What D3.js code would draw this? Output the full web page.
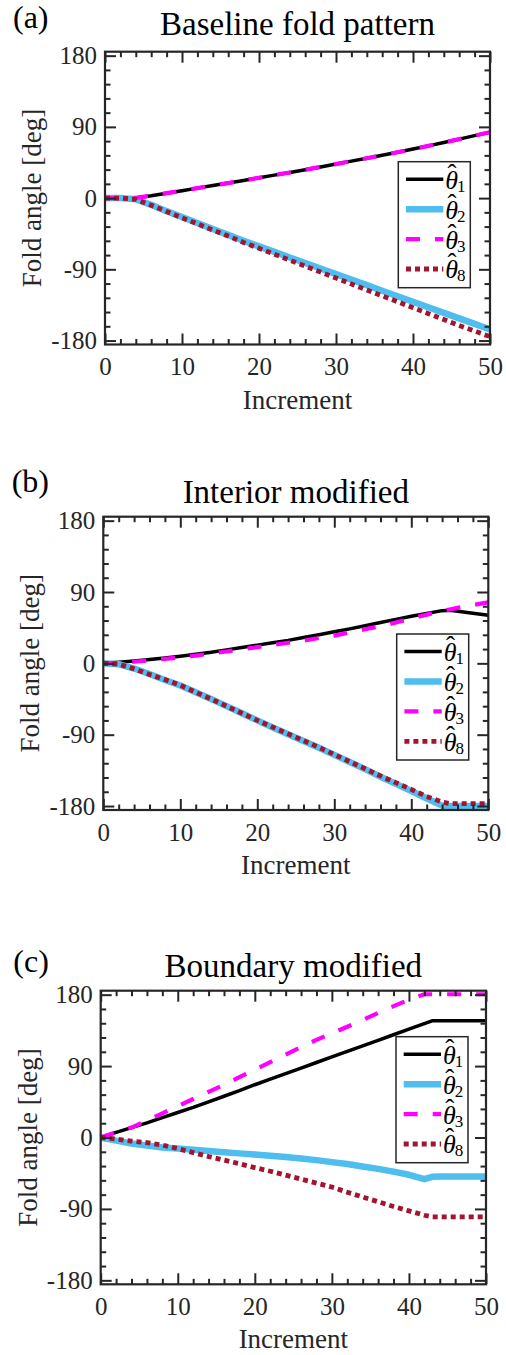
<!DOCTYPE html>
<html>
<head>
<meta charset="utf-8">
<script src="https://cdn.jsdelivr.net/npm/d3@7"></script>
<style>
  body { margin: 0; background: #ffffff; }
  svg text { font-family: "Liberation Serif", "Times New Roman", serif; }
</style>
</head>
<body>
<svg id="fig" width="506" height="1355"></svg>
<script>
// ---- Data -------------------------------------------------------------
// Increment grids (panels b and c carry an extra sample at their kinks)
const incA = [0,2,4,6,8,10,12,14,16,18,20,22,24,26,28,30,32,34,36,38,40,42,44,46,48,50];
const incB = [0,2,4,6,8,10,12,14,16,18,20,22,24,26,28,30,32,34,36,38,40,42,44,45,46,48,50];
const incC = [0,2,4,6,8,10,12,14,16,18,20,22,24,26,28,30,32,34,36,38,40,42,43,44,46,48,50];

// (a) Baseline fold pattern — fold angles [deg]
const aTheta1 = [0,0,0.3,3,6.2,9.4,12.6,15.8,19,22.3,25.6,29,32.4,35.9,39.4,43,46.7,50.4,54.2,58,62,66,70.2,74.5,78.9,83.3];
const aTheta2 = [0,0,-1.5,-8.5,-16.5,-24,-31.5,-39,-46.5,-54,-61,-68,-75,-82,-89,-96,-103,-110,-117,-124,-131,-138,-145,-152,-159,-166];
const aTheta3 = [0,0,0.3,3,6.2,9.4,12.6,15.8,19,22.3,25.6,29,32.4,35.9,39.4,43,46.7,50.4,54.2,58,62,66,70.2,74.5,78.9,83.3];
const aTheta8 = [0,0,-1.5,-9,-17,-25,-32.5,-40.5,-48,-56,-63.5,-71,-78.5,-86,-93.5,-101,-108.5,-116,-123.5,-131,-138.5,-146,-153.5,-161,-168,-175];

// (b) Interior modified
const bTheta1 = [0,1.5,3,4.8,6.8,9,11.5,14,17,20,23,26,29,32.5,36,39.8,43.5,47.5,51.5,55.5,59.5,63,66.5,67,65.8,63.2,60.6];
const bTheta2 = [0,-1,-6.5,-13.5,-21,-28,-36.5,-45,-54,-63,-72,-81,-89.5,-98,-106.5,-115.5,-124.5,-133.5,-143,-152,-161,-170.5,-179.5,-180,-180,-180,-180];
const bTheta3 = [0,0.5,2,3.8,5.6,7.6,9.8,12.3,15,17.8,20.5,23.2,26,28.5,32,35,39,43,47,51.5,56.5,61.5,66,68,70,73.5,77];
const bTheta8 = [0,-1,-7,-14,-20.5,-27.5,-36.5,-45,-54,-63,-72,-80.5,-89,-97.5,-106,-115,-124,-133,-142,-150.5,-159,-168,-175,-177,-177,-177,-177];

// (c) Boundary modified
const cTheta1 = [0,6.5,12.5,18.5,25,31.5,38,45,52,59,66.5,73.5,80.5,87.5,94.5,101.5,108.5,115.5,122.5,129.5,136.5,143.5,147,147,147,147,147];
const cTheta2 = [0,-4,-7.5,-10,-12.5,-14,-15.5,-17,-18.5,-20,-21.5,-23,-24.5,-26.5,-28.5,-31,-33.5,-36.5,-39.5,-43,-47,-52.5,-49.5,-49,-49,-49,-49];
const cTheta3 = [0,6.5,12.5,21.5,30.5,39.5,48.5,57.5,66.5,76,85.5,95,104.5,114,123,131.5,139.5,148,157,165.5,173.5,180.5,180.5,180.5,180.5,180.5,180.5];
const cTheta8 = [0,-2,-4.5,-6.5,-9.5,-14,-19,-24,-28.5,-33,-38,-42.5,-47.5,-52.5,-57.5,-62.5,-69,-75,-81,-87,-92.5,-98,-100,-100,-100,-100,-100];

// Labels and ticks
const panelTags = ["(a)", "(b)", "(c)"];
const panelTitles = ["Baseline fold pattern", "Interior modified", "Boundary modified"];
const seriesSubscripts = ["1", "2", "3", "8"];
const xMajorTicks = [0, 10, 20, 30, 40, 50];
const xMinorTicks = [2,4,6,8,12,14,16,18,22,24,26,28,32,34,36,38,42,44,46,48];
const yMajorTicks = [-180, -90, 0, 90, 180];
const yMinorTicks = [-162,-144,-126,-108,-72,-54,-36,-18,18,36,54,72,108,126,144,162];
const xDomain = [0, 50];
const yDomain = [-185, 185];
const xLabel = "Increment";
const yLabel = "Fold angle [deg]";

// ---- Styling & layout ----------------------------------------------------
const axisColor = "#262626";
const lineStyles = [
  { color: "#000000", width: 3.5, dash: null },
  { color: "#4DBEEE", width: 6.5, dash: null },
  { color: "#FF00FF", width: 4.2, dash: "14,15" },
  { color: "#A2142F", width: 4.8, dash: "5,4" }
];

const panels = [
  { inc: incA, series: [aTheta1, aTheta2, aTheta3, aTheta8],
    box: { left: 105, right: 490, top: 51.7, bottom: 344.5 },
    titleY: 35, tag: { x: 13, y: 28.3 }, legend: { x: 398.3, y: 161.7 } },
  { inc: incB, series: [bTheta1, bTheta2, bTheta3, bTheta8],
    box: { left: 103.3, right: 488.3, top: 516.7, bottom: 810 },
    titleY: 503.3, tag: { x: 11.7, y: 491.7 }, legend: { x: 396.7, y: 634 } },
  { inc: incC, series: [cTheta1, cTheta2, cTheta3, cTheta8],
    box: { left: 100.7, right: 486, top: 990.7, bottom: 1284.3 },
    titleY: 976.7, tag: { x: 13.3, y: 971.7 }, legend: { x: 396, y: 1036.7 } }
];

const svg = d3.select("#fig");
const plainNumber = d => String(d);   // ASCII hyphen for negatives

function styleAxis(g) {
  g.select(".domain").remove();
  g.attr("font-family", null).attr("font-size", null);
  g.selectAll(".tick line").attr("stroke", axisColor).attr("stroke-width", 2);
  g.selectAll(".tick text")
    .attr("fill", axisColor)
    .style("font-family", '"Liberation Serif", "Times New Roman", serif')
    .style("font-size", "25px");
}

panels.forEach((p, pi) => {
  const b = p.box;
  const x = d3.scaleLinear().domain(xDomain).range([b.left, b.right]);
  const y = d3.scaleLinear().domain(yDomain).range([b.bottom, b.top]);
  const g = svg.append("g");

  // clip region = axes box
  const clipId = "clip" + pi;
  g.append("clipPath").attr("id", clipId)
    .append("rect")
    .attr("x", b.left).attr("y", b.top)
    .attr("width", b.right - b.left).attr("height", b.bottom - b.top);

  // data lines
  const line = d3.line().x(d => x(d[0])).y(d => y(d[1]));
  const plot = g.append("g").attr("clip-path", `url(#${clipId})`);
  p.series.forEach((vals, si) => {
    const st = lineStyles[si];
    plot.append("path")
      .datum(p.inc.map((v, i) => [v, vals[i]]))
      .attr("d", line)
      .attr("fill", "none")
      .attr("stroke", st.color)
      .attr("stroke-width", st.width)
      .attr("stroke-linejoin", "round")
      .attr("stroke-dasharray", st.dash);
  });

  // ticks (inward on all four sides)
  const major = 11, minor = 5.5;
  g.append("g").attr("transform", `translate(0,${b.bottom})`)
    .call(d3.axisBottom(x).tickValues(xMajorTicks).tickSize(-major).tickPadding(13).tickFormat(plainNumber))
    .call(styleAxis);
  g.append("g").attr("transform", `translate(0,${b.bottom})`)
    .call(d3.axisBottom(x).tickValues(xMinorTicks).tickSize(-minor).tickFormat(""))
    .call(styleAxis);
  g.append("g").attr("transform", `translate(0,${b.top})`)
    .call(d3.axisTop(x).tickValues(xMajorTicks).tickSize(-major).tickFormat(""))
    .call(styleAxis);
  g.append("g").attr("transform", `translate(0,${b.top})`)
    .call(d3.axisTop(x).tickValues(xMinorTicks).tickSize(-minor).tickFormat(""))
    .call(styleAxis);
  g.append("g").attr("transform", `translate(${b.left},0)`)
    .call(d3.axisLeft(y).tickValues(yMajorTicks).tickSize(-major).tickPadding(8).tickFormat(plainNumber))
    .call(styleAxis);
  g.append("g").attr("transform", `translate(${b.left},0)`)
    .call(d3.axisLeft(y).tickValues(yMinorTicks).tickSize(-minor).tickFormat(""))
    .call(styleAxis);
  g.append("g").attr("transform", `translate(${b.right},0)`)
    .call(d3.axisRight(y).tickValues(yMajorTicks).tickSize(-major).tickFormat(""))
    .call(styleAxis);
  g.append("g").attr("transform", `translate(${b.right},0)`)
    .call(d3.axisRight(y).tickValues(yMinorTicks).tickSize(-minor).tickFormat(""))
    .call(styleAxis);

  // frame
  g.append("rect")
    .attr("x", b.left).attr("y", b.top)
    .attr("width", b.right - b.left).attr("height", b.bottom - b.top)
    .attr("fill", "none").attr("stroke", axisColor).attr("stroke-width", 2.2);

  // axis labels
  g.append("text")
    .attr("x", (b.left + b.right) / 2).attr("y", b.bottom + 64)
    .attr("text-anchor", "middle").attr("font-size", 27).attr("fill", axisColor)
    .text(xLabel);
  g.append("text")
    .attr("transform", `translate(${b.left - 64},${(b.top + b.bottom) / 2}) rotate(-90)`)
    .attr("text-anchor", "middle").attr("font-size", 27).attr("fill", axisColor)
    .text(yLabel);

  // title and panel tag
  g.append("text")
    .attr("x", (b.left + b.right) / 2).attr("y", p.titleY)
    .attr("text-anchor", "middle").attr("font-size", 33).attr("fill", "#000")
    .text(panelTitles[pi]);
  g.append("text")
    .attr("x", p.tag.x).attr("y", p.tag.y)
    .attr("font-size", 32).attr("fill", "#000")
    .text(panelTags[pi]);

  // legend: θ with a hat accent and a subscript, set in one text element
  const lg = g.append("g").attr("transform", `translate(${p.legend.x},${p.legend.y})`);
  lg.append("rect").attr("width", 72).attr("height", 126)
    .attr("fill", "#fff").attr("stroke", axisColor).attr("stroke-width", 1.5);
  seriesSubscripts.forEach((sub, si) => {
    const st = lineStyles[si];
    const ry = 17.6 + si * 29.9;
    lg.append("line")
      .attr("x1", 7.7).attr("x2", 45).attr("y1", ry).attr("y2", ry)
      .attr("stroke", st.color).attr("stroke-width", st.width)
      .attr("stroke-dasharray", st.dash);
    const t = lg.append("text")
      .attr("x", 47).attr("y", ry + 9.5)
      .attr("fill", "#000");
    t.append("tspan")
      .attr("font-size", 26).attr("font-style", "italic")
      .text("\u03B8");
    t.append("tspan")
      .attr("font-size", 27).attr("dx", -10.5).attr("dy", -6)
      .text("\u02C6");
    t.append("tspan")
      .attr("font-size", 17).attr("dx", 0.5).attr("dy", 9)
      .text(sub);
  });
});
</script>
</body>
</html>
